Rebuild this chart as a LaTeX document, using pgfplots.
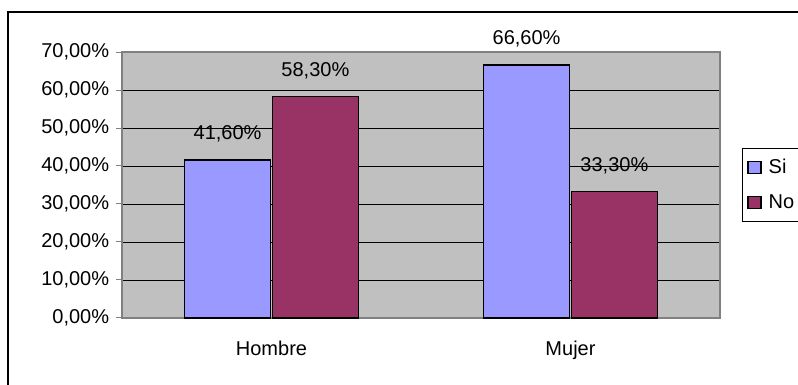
\documentclass[border=0pt]{standalone}
\usepackage{pgfplots}
\pgfplotsset{compat=1.18}
\usepackage{fontspec}
\setmainfont{Liberation Sans}
\definecolor{siColor}{HTML}{9999FF}
\definecolor{noColor}{HTML}{993366}
\definecolor{plotBg}{HTML}{C0C0C0}
\definecolor{axGray}{HTML}{808080}
\begin{document}
\begin{tikzpicture}[x=1pt,y=1pt]
\fontsize{20pt}{24pt}\selectfont
\draw[black, line width=2pt] (7.5,-20) rectangle (830,373);
\begin{axis}[
  at={(122pt,67pt)}, anchor=south west,
  scale only axis, width=598pt, height=266pt,
  /pgf/number format/assume math mode=true,
  ymin=0, ymax=70, ytick={0,10,...,70},
  yticklabel={\pgfmathprintnumber[fixed,fixed zerofill,precision=2,use comma]{\tick}\%},
  xmin=-0.5, xmax=1.5,
  xtick={0,1}, xticklabels={Hombre,Mujer},
  xtick pos=bottom, ytick pos=left,
  major x tick style={draw=none},
  extra x ticks={-0.5,0.5,1.5}, extra x tick labels={},
  extra x tick style={tick style={draw=axGray, line width=1pt}, major tick length=6pt, tick align=outside, grid=none, xtick pos=bottom},
  x tick label style={yshift=-10pt},
  tick label style={font=\fontsize{20pt}{23pt}\selectfont},
  ytick style={draw=axGray, line width=1pt},
  tick align=outside, major tick length=6pt,
  ymajorgrids, grid style={black, line width=0.9pt},
  axis background/.style={fill=plotBg},
  axis line style={draw=axGray, line width=1.3pt},
  ybar, bar width=0.287,
  point meta=explicit symbolic,
  nodes near coords,
  every node near coord/.append style={anchor=center, yshift=26pt, font=\fontsize{20pt}{23pt}\selectfont, text=black},
  legend style={at={(1,0.5)}, anchor=west, xshift=22pt, draw=black, line width=0.8pt, fill=white,
    font=\fontsize{20pt}{23pt}\selectfont, row sep=14pt, column sep=5pt, inner xsep=5pt, inner ysep=8pt, cells={anchor=west}},
  legend image code/.code={\draw[#1, draw=black, line width=1.3pt] (0pt,-6pt) rectangle (13pt,6pt);},
  clip=false,
]
\addplot[fill=siColor, draw=black, line width=1.3pt] coordinates {(0,41.6) [41,60\%] (1,66.6) [66,60\%]};
\addplot[fill=noColor, draw=black, line width=1.3pt] coordinates {(0,58.3) [58,30\%] (1,33.3) [33,30\%]};
\legend{Si,No}
\end{axis}
\pgfresetboundingbox
\useasboundingbox (0,0) rectangle (798,385);
\end{tikzpicture}
\end{document}
